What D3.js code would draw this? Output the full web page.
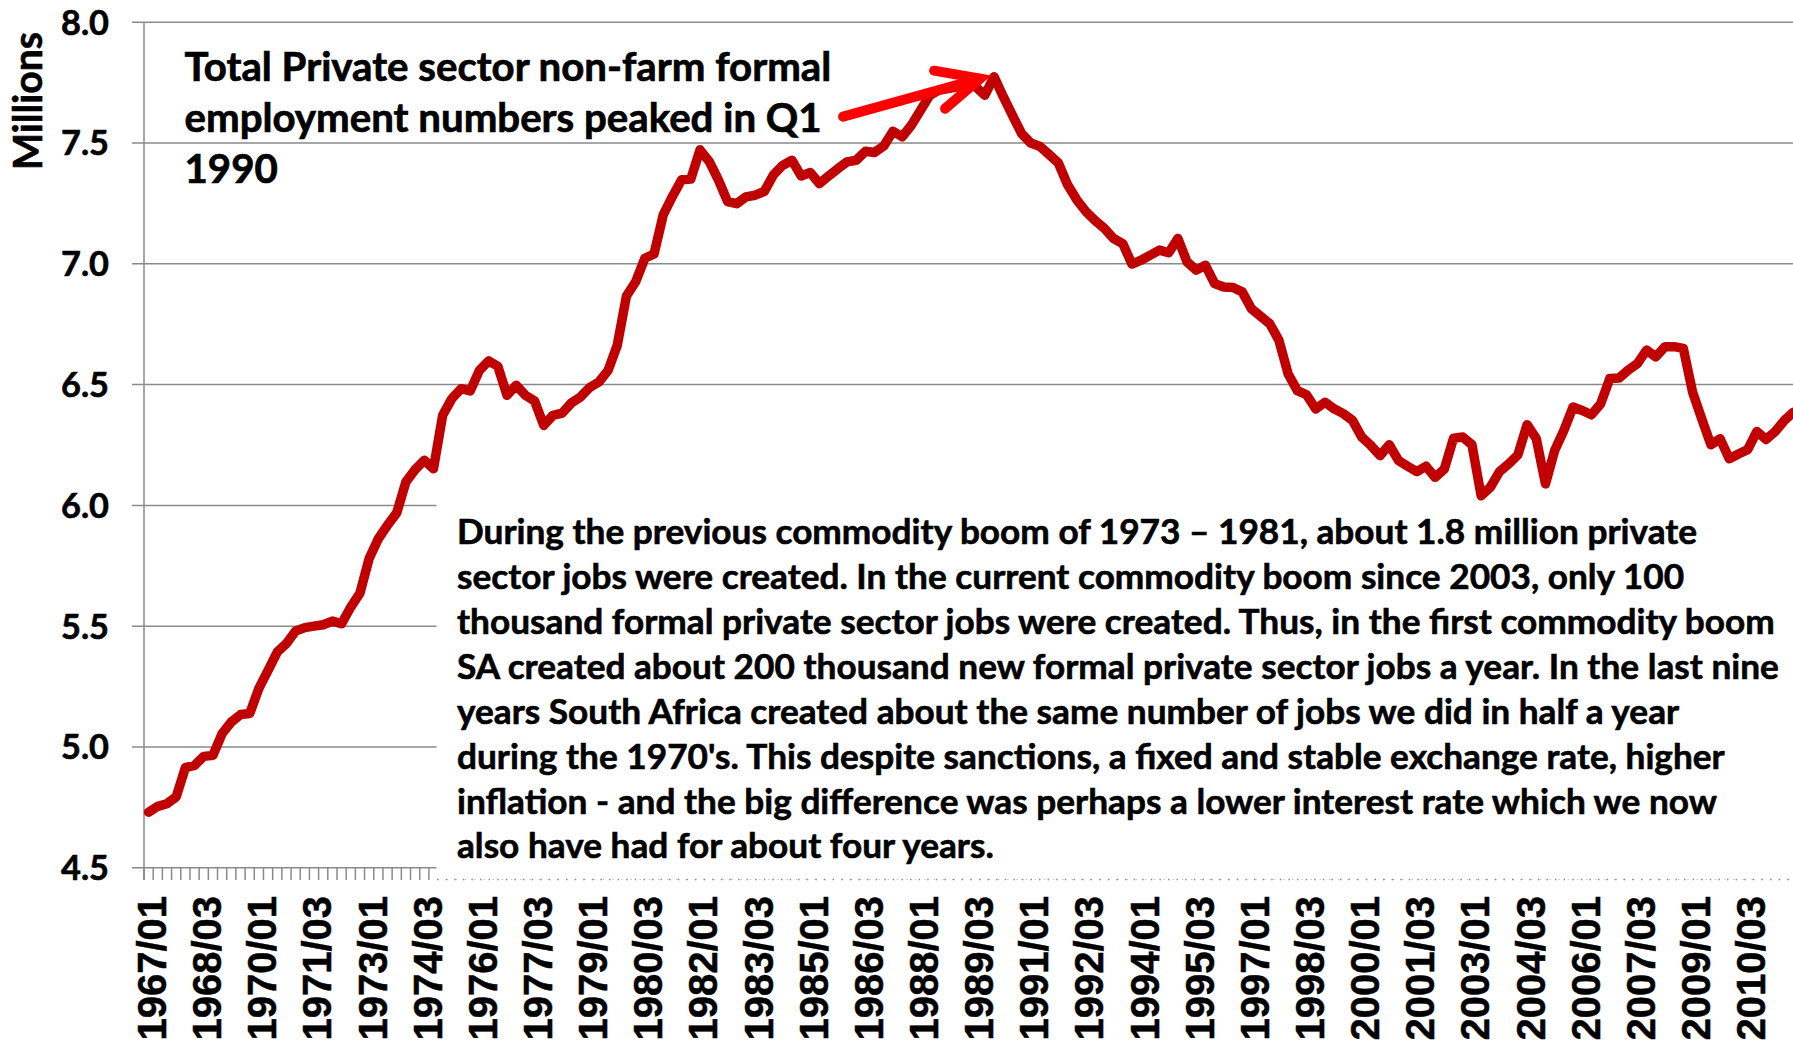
<!DOCTYPE html>
<html>
<head>
<meta charset="utf-8">
<script src="https://cdn.jsdelivr.net/npm/d3@7"></script>
<style>
    body { margin: 0; background: #fff; }
    svg { display: block; }
</style>
</head>
<body>
<svg id="chart" width="1793" height="1043"></svg>
<script>
// quarterly private sector non-farm formal employment, millions, from 1967/01
var values1967 = [4.730, 4.754, 4.765, 4.793, 4.914, 4.924, 4.961, 4.965, 5.055, 5.103, 5.134, 5.138,
    5.242, 5.317, 5.393, 5.428, 5.480, 5.494, 5.500, 5.506, 5.521, 5.510, 5.579, 5.637];
var values1973 = [5.780, 5.862, 5.918, 5.969, 6.097, 6.148, 6.187, 6.152, 6.373, 6.442, 6.483, 6.474,
    6.559, 6.598, 6.576, 6.456, 6.497, 6.456, 6.432, 6.331, 6.373, 6.382, 6.424, 6.449];
var values1979 = [6.488, 6.511, 6.559, 6.663, 6.867, 6.926, 7.023, 7.041, 7.203, 7.279, 7.348, 7.351,
    7.472, 7.424, 7.348, 7.258, 7.249, 7.277, 7.284, 7.300, 7.369, 7.408, 7.429, 7.364];
var values1985 = [7.378, 7.332, 7.364, 7.394, 7.422, 7.429, 7.466, 7.461, 7.488, 7.549, 7.526, 7.574,
    7.636, 7.698, 7.719, 7.726, 7.733, 7.740, 7.733, 7.698, 7.775, 7.692, 7.615, 7.539];
var values1991 = [7.500, 7.486, 7.452, 7.417, 7.327, 7.265, 7.216, 7.179, 7.147, 7.105, 7.084, 6.999,
    7.015, 7.036, 7.057, 7.046, 7.105, 7.008, 6.974, 6.994, 6.918, 6.904, 6.902, 6.884];
var values1997 = [6.814, 6.783, 6.752, 6.683, 6.544, 6.475, 6.458, 6.399, 6.427, 6.400, 6.380, 6.352,
    6.283, 6.248, 6.206, 6.251, 6.186, 6.162, 6.140, 6.162, 6.116, 6.151, 6.278, 6.283];
var values2003 = [6.251, 6.040, 6.075, 6.140, 6.172, 6.209, 6.334, 6.276, 6.089, 6.227, 6.310, 6.407,
    6.393, 6.375, 6.420, 6.525, 6.527, 6.560, 6.587, 6.643, 6.615, 6.657, 6.657, 6.650];
var values2009 = [6.470, 6.359, 6.251, 6.276, 6.193, 6.213, 6.231, 6.306, 6.273, 6.306, 6.352, 6.386];

var yTicks = [4.5, 5.0, 5.5, 6.0, 6.5, 7.0, 7.5, 8.0];
var labelEvery = 6;
var startYear = 1967;

var titleLines = [
    "Total Private sector non-farm formal",
    "employment numbers peaked in Q1",
    "1990"
];
var noteLines = [
    "During the previous commodity boom of 1973 \u2013 1981, about 1.8 million private",
    "sector jobs were created. In the current commodity boom since 2003, only 100",
    "thousand formal private sector jobs were created. Thus, in the first commodity boom",
    "SA created about 200 thousand new formal private sector jobs a year. In the last nine",
    "years South Africa created about the same number of jobs we did in half a year",
    "during the 1970's. This despite sanctions, a fixed and stable exchange rate, higher",
    "inflation - and the big difference was perhaps a lower interest rate which we now",
    "also have had for about four years."
];

var values = [].concat(values1967, values1973, values1979, values1985, values1991, values1997, values2003, values2009);
var quarters = values.map(function(v, i) {
    var q = (i % 4) + 1;
    return (startYear + Math.floor(i / 4)) + "/0" + q;
});

var svg = d3.select("#chart");
var grey = "#8a8a8a";
var font = "Lato, 'Open Sans', sans-serif";

var step = 9.19;
var x = d3.scaleBand().domain(quarters).range([144, 144 + quarters.length * step]);
var y = d3.scaleLinear().domain([4.5, 8.0]).range([867.7, 22.3]);
var cx = function(d, i) { return x(quarters[i]) + x.bandwidth() / 2; };

function fitWidth(sel, target) {
    var fs = parseFloat(sel.attr("font-size"));
    var w = sel.node().getComputedTextLength();
    return fs * target / w;
}

// gridlines
svg.append("g").selectAll("line").data(yTicks).enter().append("line")
    .attr("x1", 132).attr("x2", 1793)
    .attr("y1", function(d) { return y(d); })
    .attr("y2", function(d) { return y(d); })
    .attr("stroke", grey).attr("stroke-width", 1.5);

// category ticks
svg.append("g").selectAll("line").data(quarters).enter().append("line")
    .attr("x1", function(d) { return x(d); })
    .attr("x2", function(d) { return x(d); })
    .attr("y1", y(4.5)).attr("y2", 880)
    .attr("stroke", grey).attr("stroke-width", 1.5);

// y axis
svg.append("line")
    .attr("x1", 144).attr("x2", 144)
    .attr("y1", y(8.0)).attr("y2", 880)
    .attr("stroke", grey).attr("stroke-width", 1.5);

// y tick labels
var yLab = svg.append("g").selectAll("text").data(yTicks).enter().append("text")
    .attr("x", 109)
    .attr("y", function(d) { return y(d); })
    .attr("dy", "0.36em")
    .attr("text-anchor", "end")
    .attr("font-family", font).attr("font-weight", "bold")
    .attr("stroke", "#000").attr("stroke-width", 0.6)
    .attr("font-size", 34)
    .text(function(d) { return d.toFixed(1); });
var ySize = fitWidth(yLab.filter(function(d) { return d === 8.0; }), 48);
yLab.attr("font-size", ySize);

var millions = svg.append("text")
    .attr("transform", "translate(42,101) rotate(-90)")
    .attr("text-anchor", "middle")
    .attr("font-family", font).attr("font-weight", "bold")
    .attr("stroke", "#000").attr("stroke-width", 0.6)
    .attr("font-size", 36)
    .text("Millions");
millions.attr("font-size", fitWidth(millions, 138));

// x labels
svg.append("g").selectAll("text")
    .data(quarters.filter(function(d, i) { return i % labelEvery === 0; }))
    .enter().append("text")
    .attr("transform", function(d) {
        return "translate(" + (x(d) + x.bandwidth() / 2 + 3) + ",896) rotate(-90)";
    })
    .attr("dy", "0.36em")
    .attr("text-anchor", "end")
    .attr("font-family", "'Liberation Sans', Arial, sans-serif").attr("font-weight", "bold")
    .attr("stroke", "#000").attr("stroke-width", 0.5)
    .attr("font-size", 40)
    .text(function(d) { return d; });

// note box
svg.append("rect")
    .attr("x", 436.5).attr("y", 501)
    .attr("width", 1793 - 436.5).attr("height", 879.5 - 501)
    .attr("fill", "#fff");
svg.append("line")
    .attr("x1", 437).attr("x2", 1793)
    .attr("y1", 879.5).attr("y2", 879.5)
    .attr("stroke", grey).attr("stroke-width", 1.5)
    .attr("stroke-dasharray", "1.5,7.1");

// series line
var line = d3.line()
    .x(function(d, i) { return cx(d, i); })
    .y(function(d) { return y(d); });
svg.append("path")
    .datum(values)
    .attr("d", line)
    .attr("fill", "none")
    .attr("stroke", "#c00000")
    .attr("stroke-width", 9.5)
    .attr("stroke-linejoin", "round")
    .attr("stroke-linecap", "round");

// note text
var note = svg.append("g").selectAll("text").data(noteLines).enter().append("text")
    .attr("x", 457)
    .attr("y", function(d, i) { return 544.3 + i * 44.87; })
    .attr("font-family", font).attr("font-weight", "bold")
    .attr("stroke", "#000").attr("stroke-width", 0.6)
    .attr("font-size", 32)
    .attr("fill", "#000")
    .text(function(d) { return d; });
note.attr("font-size", fitWidth(note.filter(function(d, i) { return i === 2; }), 1318));

// title annotation
var title = svg.append("g").selectAll("text").data(titleLines).enter().append("text")
    .attr("x", 184.5)
    .attr("y", function(d, i) { return 81 + i * 51; })
    .attr("font-family", font).attr("font-weight", "bold")
    .attr("stroke", "#000").attr("stroke-width", 0.7)
    .attr("font-size", 40)
    .text(function(d) { return d; });
title.attr("font-size", fitWidth(title.filter(function(d, i) { return i === 0; }), 647));

// arrow pointing at the peak
var peakIdx = values.indexOf(d3.max(values));
var tipX = cx(0, peakIdx) - 14, tipY = y(values[peakIdx]) + 2;
var arrow = svg.append("g")
    .attr("stroke", "#ff0000").attr("stroke-width", 10)
    .attr("stroke-linecap", "round").attr("fill", "none");
arrow.append("line")
    .attr("x1", tipX - 137).attr("y1", tipY + 38)
    .attr("x2", tipX).attr("y2", tipY);
arrow.append("polyline")
    .attr("stroke-linejoin", "miter")
    .attr("points", [[tipX - 46, tipY - 8], [tipX, tipY], [tipX - 35, tipY + 30]].join(" "));
</script>
</body>
</html>
